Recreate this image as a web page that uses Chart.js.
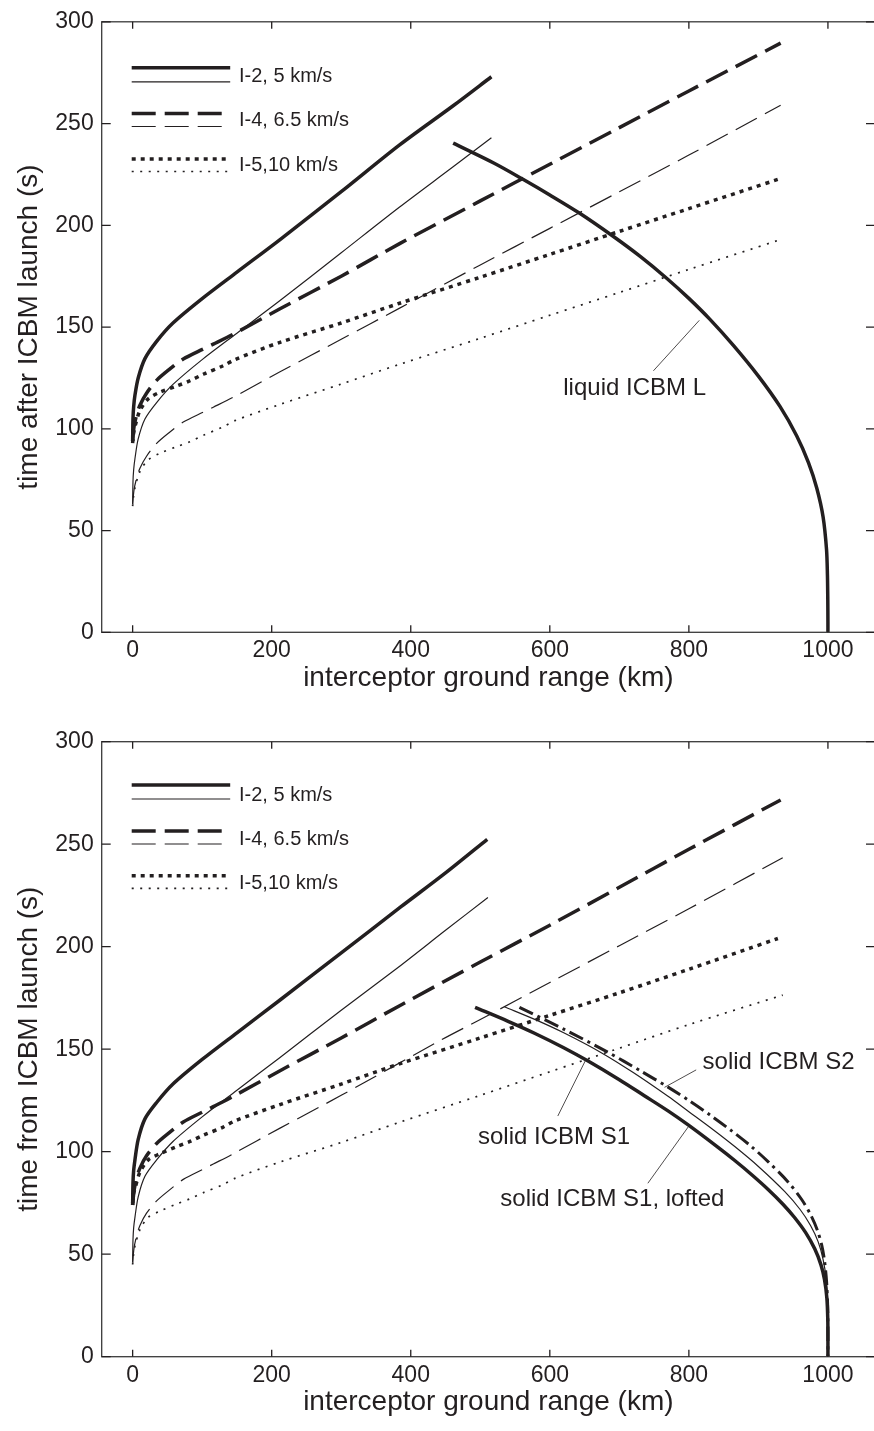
<!DOCTYPE html>
<html>
<head>
<meta charset="utf-8">
<script src="https://cdn.jsdelivr.net/npm/chart.js@4.4.1/dist/chart.umd.min.js"></script>
<style>
  body { margin: 0; background: #fff; width: 874px; height: 1431px; overflow: hidden; }
  .panel { position: relative; width: 874px; overflow: hidden; }
  #p1 { height: 715px; }
  #p2 { height: 716px; }
  canvas { position: absolute; left: 0; top: 0; }
</style>
</head>
<body>
<div class="panel" id="p1"><canvas id="chartTop" width="880" height="715"></canvas></div>
<div class="panel" id="p2"><canvas id="chartBottom" width="880" height="716"></canvas></div>
<script>
// axis ticks
const xTicks = [0, 200, 400, 600, 800, 1000];
const yTicks = [0, 50, 100, 150, 200, 250, 300];
const legendNames = ['I-2, 5 km/s', 'I-4, 6.5 km/s', 'I-5,10 km/s'];

// ---- upper panel: [range km, time s] ----
const topI2Thick = [[0,94],[0.5,105],[1.5,111],[3.3,116.5],[8,125],[17.7,134.5],[34.5,143],[58,152],[100,164],[150,177],[212,193],[300,216.5],[384,239.5],[460,258.5],[516,273]];
const topI2Thin = [[0,63],[0.5,74],[1.5,80],[3.3,85.3],[8,95],[17.7,104.8],[34.5,112.9],[58,121.8],[100,134],[150,147],[212,163],[300,186.5],[384,209],[460,228.5],[516,243]];
const topI4Thick = [[0,94],[2,101],[5.7,106.7],[10.5,111.6],[20,117.5],[34.5,123.8],[53.6,129.4],[72.8,134.3],[101.5,139.2],[116,141.6],[144.7,146.5],[212,159],[300,175],[384,191],[500,212],[600,230],[700,248],[800,266],[932,289.5]];
const topI4Thin = [[0,63],[2,70],[5.7,75.7],[10.5,80.6],[20,86.5],[34.5,92.8],[53.6,98.4],[72.8,103.3],[101.5,108.2],[116,110.6],[144.7,115.5],[212,128],[300,144],[384,159.3],[500,180.5],[600,198.5],[700,216.5],[800,234.5],[932,259]];
const topI5Thick = [[0,93],[1,97],[3.3,101],[10.5,109],[22.4,114.7],[39.3,118],[63.3,121],[82.4,123.6],[101.5,126.8],[130.3,131],[147,134],[212,142.5],[300,152],[384,161.7],[500,174.5],[600,185.7],[700,197],[800,208.2],[932,223]];
const topI5Thin = [[0,62],[1,66],[3.3,71],[10.5,79],[22.4,84.7],[39.3,88],[63.3,91.2],[82.4,93.6],[101.5,96.8],[130.3,101],[147,104],[212,112],[300,122],[384,131.7],[500,144.5],[600,155.8],[700,167],[800,178.3],[932,193]];
const topLiquidL = [[461,240.4],[520,230.5],[562,222.5],[600,214.9],[643,205.9],[691,194.6],[730,184.7],[768,174],[800,164.1],[830,153.9],[864,141],[900,125.9],[931,111],[955,96.6],[972,83.4],[984,70.8],[993,56.8],[998,40.6],[999.3,28],[999.8,16],[1000,5],[1000,0]];
const topLeader = [[749,128.5],[815,153.3]];
const topLabels = [{ text: 'liquid ICBM L', x: 722, y: 120 }];

// ---- lower panel ----
const botI2Thick = [[0,74],[0.5,85],[1.5,91],[3.3,96],[8,106],[17.7,116],[34.5,124],[58,133],[100,145],[150,158],[212,174],[300,197],[386,219.5],[450,236],[510,252.4]];
const botI2Thin = [[0,46],[0.5,57],[1.5,63],[3.3,68],[8,78],[17.7,88],[34.5,96],[58,105],[100,117],[150,130],[212,146],[300,169],[386,191],[450,208],[511,224]];
const botI4Thick = [[0,74],[2,81],[5.7,87],[10.5,92],[20,98],[34.5,104],[53.6,109.5],[72.8,114.5],[101.5,119.5],[116,122],[144.7,127],[212,139.5],[300,155.5],[386,171.6],[500,192.5],[600,210.5],[700,229],[800,247.5],[932,271.6]];
const botI4Thin = [[0,46],[2,53],[5.7,59],[10.5,64],[20,70],[34.5,76],[53.6,81.5],[72.8,86.5],[101.5,91.5],[116,94],[144.7,99],[212,111.5],[300,127.5],[443.6,154.5],[500,164.5],[600,182.5],[700,200.5],[800,218.5],[935,243.4]];
const botI5Thick = [[0,75],[1,79],[3.3,82],[10.5,90],[22.4,96],[39.3,99],[63.3,102.5],[82.4,105],[101.5,108],[130.3,112],[147,115],[212,123],[300,133],[386,143.1],[500,155.5],[600,166.5],[700,177.5],[800,189],[928,204]];
const botI5Thin = [[0,45],[1,49],[3.3,54],[10.5,62],[22.4,68],[39.3,71],[63.3,74.5],[82.4,77],[101.5,80],[130.3,84],[147,87],[212,95],[300,104.5],[386,114.6],[500,127.5],[600,139],[700,150.5],[800,162],[935,176.4]];
const botS1 = [[492.5,170.4],[540,163.6],[578,157.8],[620,150.7],[655,144.2],[700,135.1],[736,127.3],[770,119.9],[800,112.8],[842,102.1],[866,95.7],[890,88.9],[914,81.6],[935,74.5],[952,67.9],[968,60.5],[981,52.6],[990,44.8],[995,37.8],[998.5,28.5],[999.8,18],[1000,7],[1000,0]];
const botS1Lofted = [[534.7,170.7],[580,164.3],[620,158],[674,148.3],[720,138.6],[770,127],[800,119.5],[835,110.7],[866,102.5],[900,92.8],[938,80.5],[960,71.8],[975,64],[986,56],[993,47.5],[997.5,38],[999.5,26],[1000,12],[1000,0]];
const botS2 = [[556.3,170.4],[620,159.8],[683.5,148.5],[730,139.5],[770,131.5],[800,125],[830,118],[861,110.3],[890,102.5],[915,94.8],[942,85.5],[962,76.8],[975.5,69],[985,61.5],[991,54.5],[995,47],[998,37],[999.6,25],[1000,12],[1000,0]];
const botLeaderS2 = [[765,131.4],[810.5,139.9]];
const botLeaderS1 = [[611.5,117.4],[652,145]];
const botLeaderLofted = [[741,84.6],[801,113]];
const botLabels = [
  { text: 'solid ICBM S2', x: 929, y: 143.8 },
  { text: 'solid ICBM S1', x: 606, y: 107.1 },
  { text: 'solid ICBM S1, lofted', x: 690, y: 76.9 }
];

const INK = '#231f20';
const FONT = '"Liberation Sans", Arial, sans-serif';
const THICK = 3.5, THIN = 1.2;
const DASH = [24, 9], DOT_THICK = [4, 5], DOT_THIN = [2, 6.5], DASH_DOT = [15, 5, 3, 5];

function line(points, width, dash, tension) {
  return {
    data: points.map(p => ({ x: p[0], y: p[1] })),
    borderColor: INK,
    borderWidth: width,
    borderDash: dash || [],
    pointRadius: 0,
    tension: tension === undefined ? 0.3 : tension,
    fill: false
  };
}

// box, inward ticks, text labels and two-line legend samples
const decorate = {
  id: 'decorate',
  afterDatasetsDraw(chart, args, opts) {
    const { ctx, chartArea: a, scales: { x, y } } = chart;
    ctx.save();
    ctx.strokeStyle = '#3a3a3a';
    ctx.lineWidth = 1.3;
    ctx.setLineDash([]);
    ctx.strokeRect(a.left, a.top, a.right - a.left, a.bottom - a.top);
    ctx.strokeStyle = INK;
    ctx.beginPath();
    x.ticks.forEach(t => {
      const p = x.getPixelForValue(t.value);
      ctx.moveTo(p, a.bottom); ctx.lineTo(p, a.bottom - 7);
      ctx.moveTo(p, a.top); ctx.lineTo(p, a.top + 7);
    });
    y.ticks.forEach(t => {
      const p = y.getPixelForValue(t.value);
      ctx.moveTo(a.left, p); ctx.lineTo(a.left + 9, p);
      ctx.moveTo(a.right, p); ctx.lineTo(a.right - 9, p);
    });
    ctx.stroke();

    ctx.fillStyle = INK;
    ctx.font = '24px ' + FONT;
    ctx.textAlign = 'center';
    ctx.textBaseline = 'middle';
    opts.labels.forEach(l => ctx.fillText(l.text, x.getPixelForValue(l.x), y.getPixelForValue(l.y)));

    const lg = opts.legend;
    const styles = [[[], []], [DASH, DASH], [DOT_THICK, DOT_THIN]];
    const x0 = a.left + 30, x1 = a.left + 128.5;
    ctx.font = '20px ' + FONT;
    ctx.textAlign = 'left';
    legendNames.forEach((name, i) => {
      ctx.lineWidth = THICK;
      ctx.setLineDash(styles[i][0]);
      ctx.beginPath(); ctx.moveTo(x0, a.top + lg.thick[i]); ctx.lineTo(x1, a.top + lg.thick[i]); ctx.stroke();
      ctx.lineWidth = i === 2 ? 1.7 : THIN;
      ctx.setLineDash(styles[i][1]);
      ctx.beginPath(); ctx.moveTo(x0, a.top + lg.thin[i]); ctx.lineTo(x1, a.top + lg.thin[i]); ctx.stroke();
      ctx.fillText(name, a.left + 137.3, a.top + lg.text[i]);
    });
    ctx.restore();
  }
};

function makeChart(id, datasets, yTitle, cfg) {
  return new Chart(document.getElementById(id), {
    type: 'line',
    data: { datasets: datasets },
    plugins: [decorate],
    options: {
      responsive: false,
      animation: false,
      devicePixelRatio: 1,
      layout: { padding: { left: 0, top: cfg.top, right: 5, bottom: 0 } },
      plugins: {
        legend: { display: false },
        tooltip: { enabled: false },
        decorate: { labels: cfg.labels, legend: cfg.legend }
      },
      scales: {
        x: {
          type: 'linear',
          min: -44.5,
          max: 1067.7,
          afterBuildTicks: s => { s.ticks = xTicks.map(v => ({ value: v })); },
          afterFit: s => { s.height = cfg.xHeight; },
          grid: { display: false, drawTicks: false },
          border: { display: false },
          ticks: { color: INK, padding: 5, maxRotation: 0, callback: v => String(v), font: { family: FONT, size: 23 } },
          title: { display: true, text: 'interceptor ground range (km)', color: INK, padding: { top: 0, bottom: cfg.xTitlePad }, font: { family: FONT, size: 28 } }
        },
        y: {
          type: 'linear',
          min: 0,
          max: 300,
          afterBuildTicks: s => { s.ticks = yTicks.map(v => ({ value: v })); },
          afterFit: s => { s.width = 101.7; },
          grid: { display: false, drawTicks: false },
          border: { display: false },
          ticks: { color: INK, padding: 8, callback: v => String(v), font: { family: FONT, size: 23 } },
          title: { display: true, text: yTitle, color: INK, padding: { top: 12.2, bottom: 0 }, font: { family: FONT, size: 28 } }
        }
      }
    }
  });
}

makeChart('chartTop', [
  line(topI2Thick, THICK),
  line(topI2Thin, THIN),
  line(topI4Thick, THICK, DASH),
  line(topI4Thin, THIN, DASH),
  line(topI5Thick, THICK, DOT_THICK),
  line(topI5Thin, 1.7, DOT_THIN),
  line(topLiquidL, THICK),
  line(topLeader, 0.8, [], 0)
], 'time after ICBM launch (s)', {
  top: 16, xHeight: 82.7, xTitlePad: 20.2, labels: topLabels,
  legend: { thick: [46, 91.7, 137.3], thin: [60, 104.7, 149.7], text: [54.8, 98.2, 143.7] }
});

makeChart('chartBottom', [
  line(botI2Thick, THICK),
  line(botI2Thin, THIN),
  line(botI4Thick, THICK, DASH),
  line(botI4Thin, THIN, DASH),
  line(botI5Thick, THICK, DOT_THICK),
  line(botI5Thin, 1.7, DOT_THIN),
  line(botS1, THICK),
  line(botS1Lofted, THIN),
  line(botS2, 3, DASH_DOT),
  line(botLeaderS2, 0.8, [], 0),
  line(botLeaderS1, 0.8, [], 0),
  line(botLeaderLofted, 0.8, [], 0)
], 'time from ICBM launch (s)', {
  top: 26.7, xHeight: 74.3, xTitlePad: 11.8, labels: botLabels,
  legend: { thick: [43.3, 89.3, 134], thin: [57.3, 102.3, 146.6], text: [53.3, 97.5, 141.6] }
});
</script>
</body>
</html>
